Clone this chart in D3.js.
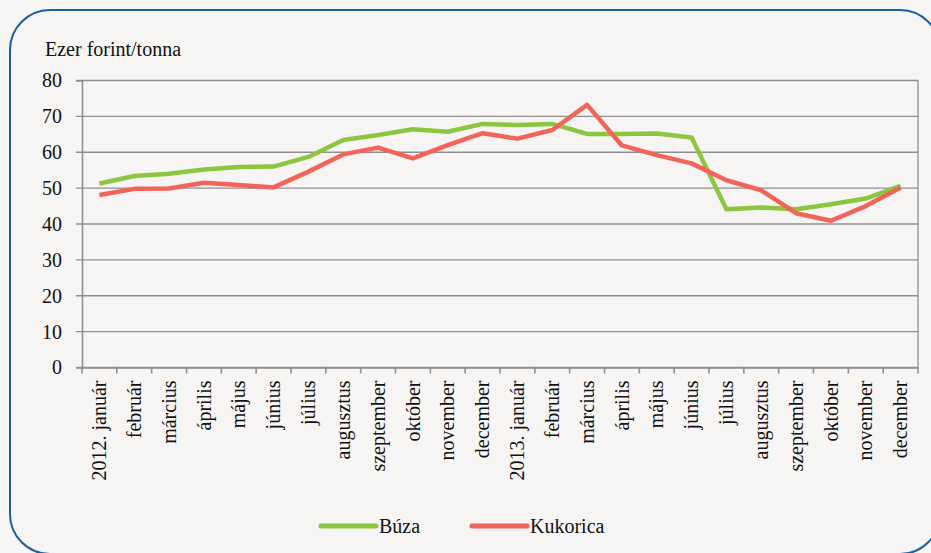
<!DOCTYPE html>
<html lang="hu">
<head>
  <meta charset="UTF-8">
  <title>Búza és kukorica ára</title>
  <script src="https://d3js.org/d3.v7.min.js"></script>
  <style>
    body { margin: 0; overflow: hidden; background: #f6f5f3; }
    svg text { font-family: "Liberation Serif", "Times New Roman", Tinos, "DejaVu Serif", serif !important; fill: #111; }
  </style>
</head>
<body>
<div id="chart"></div>
<script>
    // Honapok (x tengely)
    const months = ["2012. január", "február", "március", "április", "május", "június",
        "július", "augusztus", "szeptember", "október", "november", "december",
        "2013. január", "február", "március", "április", "május", "június",
        "július", "augusztus", "szeptember", "október", "november", "december"];

    const buza = [51.3, 53.4, 54.0, 55.2, 55.9, 56.0, 58.7, 63.4, 64.8, 66.4, 65.7, 67.9,
        67.6, 67.9, 65.1, 65.1, 65.2, 64.1, 44.1, 44.6, 44.1, 45.5, 47.1, 50.6];
    const kukorica = [48.1, 49.8, 49.9, 51.5, 50.9, 50.2, 54.6, 59.4, 61.3, 58.3, 62.0, 65.3,
        63.8, 66.2, 73.2, 61.9, 59.2, 56.9, 52.2, 49.4, 43.0, 40.9, 45.0, 50.2];

    const yTicks = [0, 10, 20, 30, 40, 50, 60, 70, 80];

    const series = [
        { name: "Búza", values: buza, color: "#8cc63f" },
        { name: "Kukorica", values: kukorica, color: "#f26459" }
    ];

    const W = 931, H = 553;
    const margin = { top: 80.5, right: 13, bottom: 185.5, left: 82 };
    const width = W - margin.left - margin.right,
        height = H - margin.top - margin.bottom;
    const fontStack = '"Liberation Serif", "Times New Roman", Tinos, "DejaVu Serif", serif';

    const root = d3.select("#chart").append("svg")
        .attr("width", W)
        .attr("height", H)
        .attr("font-family", fontStack);

    // keret
    root.append("rect")
        .attr("x", 10).attr("y", 10)
        .attr("width", 930).attr("height", 544)
        .attr("rx", 40).attr("ry", 40)
        .style("fill", "#f6f5f3")
        .style("stroke", "#1a5fa3")
        .style("stroke-width", 2);

    root.append("text")
        .attr("x", 45).attr("y", 56)
        .style("font-size", "20px")
        .text("Ezer forint/tonna");

    const svg = root.append("g")
        .attr("transform", `translate(${margin.left},${margin.top})`);

    const x = d3.scaleBand()
        .domain(d3.range(months.length))
        .range([0, width]);

    const y = d3.scaleLinear()
        .domain([0, 80])
        .range([height, 0]);

    // vizszintes racsvonalak
    svg.append("g")
        .selectAll("line")
        .data(yTicks)
        .enter()
        .append("line")
        .attr("x1", -6).attr("x2", width)
        .attr("y1", d => y(d)).attr("y2", d => y(d))
        .style("stroke", "#8f8f93")
        .style("stroke-width", 1.3);

    // jobb oldali szel
    svg.append("line")
        .attr("x1", width).attr("x2", width)
        .attr("y1", 0).attr("y2", height)
        .style("stroke", "#8f8f93")
        .style("stroke-width", 1.3);

    // y tengely
    const yAxis = svg.append("g")
        .call(d3.axisLeft(y).tickValues(yTicks).tickSize(6).tickPadding(14));
    yAxis.attr("font-family", null);
    yAxis.select(".domain").style("stroke", "#8f8f93").style("stroke-width", 1.6);
    yAxis.selectAll(".tick line").remove();
    yAxis.selectAll("text")
        .style("font-size", "20px")
        .style("fill", "#111");

    // x tengely
    const xAxis = svg.append("g")
        .attr("transform", `translate(0,${height})`)
        .call(d3.axisBottom(x).tickFormat(i => months[i]).tickSize(0).tickPadding(0));
    xAxis.attr("font-family", null);
    xAxis.select(".domain").style("stroke", "#8f8f93").style("stroke-width", 1.6);
    xAxis.selectAll("text")
        .attr("transform", "rotate(-90)")
        .attr("x", -13)
        .attr("y", 0)
        .attr("dy", "0.33em")
        .style("text-anchor", "end")
        .style("font-size", "20px")
        .style("fill", "#111");

    // x tengely beosztasok a kategoriak hataran
    svg.append("g")
        .selectAll("line")
        .data(d3.range(months.length + 1))
        .enter()
        .append("line")
        .attr("x1", d => d * x.step()).attr("x2", d => d * x.step())
        .attr("y1", height).attr("y2", height + 6)
        .style("stroke", "#8f8f93")
        .style("stroke-width", 1.6);

    const line = d3.line()
        .x((d, i) => x(i) + x.bandwidth() / 2)
        .y(d => y(d));

    svg.selectAll(".series")
        .data(series)
        .enter()
        .append("path")
        .attr("class", "series")
        .attr("d", d => line(d.values))
        .style("fill", "none")
        .style("stroke", d => d.color)
        .style("stroke-width", 4.5)
        .style("stroke-linejoin", "round");

    // jelmagyarazat
    const legend = root.append("g")
        .attr("transform", "translate(321,526)");

    const items = legend.selectAll("g")
        .data(series)
        .enter()
        .append("g")
        .attr("transform", (d, i) => `translate(${i * 151},0)`);

    items.append("line")
        .attr("x1", 0).attr("x2", 55)
        .style("stroke", d => d.color)
        .style("stroke-width", 5)
        .style("stroke-linecap", "round");

    items.append("text")
        .attr("x", 58)
        .attr("y", 7)
        .style("font-size", "20px")
        .text(d => d.name);
</script>
</body>
</html>
